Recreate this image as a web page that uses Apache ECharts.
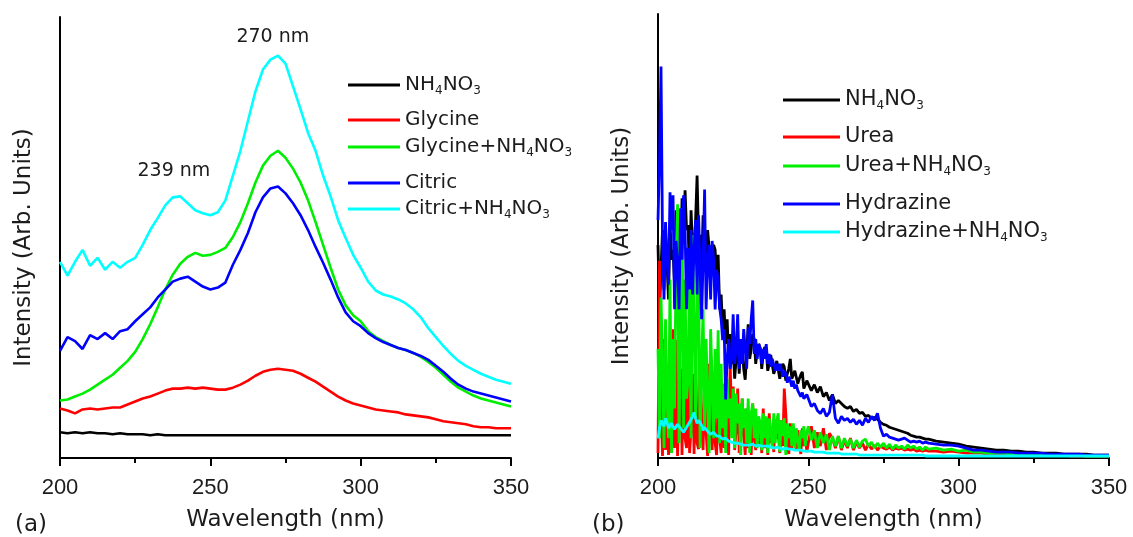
<!DOCTYPE html>
<html><head><meta charset="utf-8">
<script src="https://cdn.jsdelivr.net/npm/echarts@6/dist/echarts.min.js"></script>
<style>html,body{margin:0;padding:0;background:#fff}#c{width:1133px;height:537px}</style>
</head><body><div id="c"></div>
<script>
// ---------- Panel (a) data ----------
const leftWavelength = [200,202.5,205,207.5,210,212.5,215,217.5,220,222.5,225,227.5,230,232.5,235,237.5,240,242.5,245,247.5,250,252.5,255,257.5,260,262.5,265,267.5,270,272.5,275,277.5,280,282.5,285,287.5,290,292.5,295,297.5,300,302.5,305,307.5,310,312.5,315,317.5,320,322.5,325,327.5,330,332.5,335,337.5,340,342.5,345,347.5,350];
const nh4no3A = [26,25,26,25,26,25,25,24,25,24,24,24,23,24,23,23,23,23,23,23,23,23,23,23,23,23,23,23,23,23,23,23,23,23,23,23,23,23,23,23,23,23,23,23,23,23,23,23,23,23,23,23,23,23,23,23,23,23,23,23,23];
const glycine = [50,48,45,49,50,49,50,51,51,54,57,60,62,65,68,70,70,71,70,71,70,69,69,71,74,78,83,87,89,90,89,88,85,81,77,72,67,62,58,55,53,51,49,48,47,46,44,43,42,41,39,37,36,35,34,32,31,31,30,30,30];
const glycineNH4 = [58,59,62,65,69,74,79,84,91,98,107,120,135,152,170,185,196,203,207,204,205,208,212,223,238,257,278,295,305,310,303,292,278,260,238,215,192,170,154,144,138,128,122,118,114,111,109,106,102,97,91,84,77,71,67,63,60,58,56,54,52];
const citric = [108,122,118,110,124,120,126,120,128,130,138,145,152,162,170,178,181,183,178,173,170,172,177,195,210,227,248,263,272,274,267,257,245,230,213,197,180,162,147,138,133,126,121,117,114,111,109,106,103,99,93,87,80,74,70,67,65,63,61,59,57];
const citricNH4 = [198,184,198,210,194,202,190,198,192,198,202,215,230,242,255,263,264,257,250,247,245,248,260,285,310,340,370,392,402,406,398,375,352,328,310,285,264,240,222,205,192,178,169,165,163,160,156,150,142,131,122,113,105,98,93,89,85,82,79,77,75];

// ---------- Panel (b) data ----------
const rightWavelength = [
  200,200.5,201,201.5,202,202.5,203,203.5,204,204.5,
  205,205.5,206,206.5,207,207.5,208,208.5,209,209.5,
  210,210.5,211,211.5,212,212.5,213,213.5,214,214.5,
  215,215.5,216,216.5,217,217.5,218,218.5,219,219.5,
  220,220.5,221,221.5,222,222.5,223,223.5,224,224.5,
  225,225.5,226,226.5,227,227.5,228,228.5,229,229.5,
  230,230.5,231,231.5,232,232.5,233,233.5,234,234.5,
  235,235.5,236,236.5,237,237.5,238,238.5,239,239.5,
  240,240.5,241,241.5,242,242.5,243,243.5,244,244.5,
  245,245.5,246,246.5,247,247.5,248,248.5,249,249.5,
  250,
  251,252,253,254,255,256,257,258,259,260,
  261,262,263,264,265,266,267,268,269,270,
  271,272,273,274,275,276,277,278,279,280,
  281,282,283,284,285,286,287,288,289,290,
  292.5,295,297.5,300,302.5,305,307.5,310,312.5,315,317.5,320,322.5,325,327.5,330,332.5,335,337.5,340,342.5,345,347.5,350];
const nh4no3B = [
  215,150,190,230,170,225,195,160,238,200,
  210,175,250,200,220,185,262,215,270,230,
  235,180,250,210,205,240,285,220,225,190,
  245,200,195,230,212,180,200,215,210,175,
  205,150,165,130,150,115,140,100,125,95,
  110,80,100,120,85,110,115,90,79,105,
  135,100,110,125,120,95,108,115,111,90,
  105,112,109,88,95,104,102,85,90,98,
  96,80,88,95,92,78,85,90,100,80,
  82,88,88,75,80,84,87,70,72,78,
  76,
  68,74,66,72,62,66,58,64,55,58,
  55,52,50,52,47,49,45,46,42,43,
  40,41,39,36,34,33,31,30,29,28,
  27,26,25,23,22,21,21,20,19,19,
  17,16,15,14,12,11,10,9,8,8,7,7,6,6,5,5,5,4,4,4,4,3,3,3];
const urea = [
  5,199,60,2,120,8,62,3,40,5,
  130,10,119,2,60,90,3,125,20,10,
  100,5,30,85,4,112,15,9,95,30,
  8,80,25,2,95,40,8,70,15,3,
  60,20,5,75,10,79,30,3,95,40,
  72,8,30,70,5,15,60,25,3,50,
  10,45,3,55,20,8,40,12,30,5,
  50,10,40,3,45,15,30,6,38,20,
  25,5,38,12,70,45,15,4,35,10,
  30,20,8,28,15,4,30,12,22,6,
  15,
  32,10,26,12,30,8,25,20,10,22,
  8,18,10,20,8,16,10,15,8,14,
  9,13,8,12,10,9,11,8,10,9,
  10,8,9,8,9,7,8,7,8,7,
  7,6,7,6,5,5,5,4,4,4,4,3,3,3,3,3,3,3,2,2,2,2,2,2];
const ureaNH4 = [
  110,20,162,95,10,140,60,20,180,5,
  120,50,190,256,15,140,252,30,180,60,
  79,190,20,225,139,40,170,193,10,90,
  150,30,120,60,5,130,79,20,110,40,
  129,15,95,30,75,5,80,40,60,20,
  70,10,65,35,55,3,60,30,50,15,
  60,5,45,55,20,50,10,42,35,8,
  45,20,42,5,40,28,10,45,15,38,
  45,6,38,22,40,3,35,20,32,12,
  35,10,30,18,8,28,20,32,12,26,
  32,
  18,28,10,26,15,24,8,22,12,22,
  10,20,12,19,10,18,11,17,19,12,
  16,10,15,11,15,10,14,9,13,10,
  12,9,13,10,12,9,11,8,11,9,
  10,8,9,7,8,6,6,5,5,5,4,4,4,4,3,3,3,3,3,3,2,2,2,2];
const hydrazine = [
  240,300,395,220,160,238,200,175,268,230,
  265,150,219,195,150,252,200,265,230,150,
  212,170,230,165,210,240,165,245,190,140,
  200,271,150,199,215,160,219,200,150,190,
  180,152,140,119,130,59,100,120,90,100,
  145,95,110,145,90,120,95,130,110,90,
  132,115,140,159,105,120,100,115,110,95,
  110,100,115,95,105,92,100,98,88,95,
  88,95,90,82,88,85,76,82,78,72,
  78,70,74,68,70,62,66,60,59,64,
  60,
  52,55,48,45,50,42,46,64,40,35,
  42,38,40,36,39,34,38,33,40,36,
  42,38,45,30,22,24,21,20,19,18,
  19,20,18,16,17,16,17,15,16,15,
  14,13,13,12,10,8,8,7,6,6,6,5,5,5,5,4,4,4,4,4,3,3,3,3];
const hydrazineNH4 = [
  20,30,38,35,32,40,36,30,30,35,
  33,29,28,34,34,30,30,26,27,31,
  32,36,38,42,46,40,35,38,40,33,
  28,31,32,27,25,24,22,26,26,22,
  20,22,22,19,18,20,20,17,15,16,
  17,15,13,15,15,14,12,13,14,13,
  14,13,15,14,13,12,14,13,12,12,
  13,12,11,12,12,11,11,10,11,11,
  10,10,10,9,9,10,10,9,9,9,
  9,8,8,8,8,8,8,7,7,7,
  7,
  7,6,6,6,6,5,5,5,5,5,
  4,4,4,4,4,4,3,3,3,3,
  3,3,3,3,3,3,3,3,3,3,
  3,3,3,3,3,3,3,3,2,2,
  2,2,2,2,2,2,2,2,2,2,2,2,2,2,2,2,2,2,2,2,2,2,2,2];

// tick labels / texts
const xTicks = [200, 250, 300, 350];
const peakLabels = ['239 nm', '270 nm'];
const peakWavelengths = [237.9, 270.8];
const peakHeights = [290, 425];

const FONT = 'DejaVu Sans';
const TICKFONT = 'Liberation Sans';
const TXT = '#1c1c1c';
const pairs = (xs, ys) => xs.map((x, i) => [x, ys[i]]);

const displayNames = {
  'NH4NO3 (a)': 'NH{s|4}NO{s|3}',
  'Glycine': 'Glycine',
  'Glycine+NH4NO3': 'Glycine+NH{s|4}NO{s|3}',
  'Citric': 'Citric',
  'Citric+NH4NO3': 'Citric+NH{s|4}NO{s|3}',
  'NH4NO3 (b)': 'NH{s|4}NO{s|3}',
  'Urea': 'Urea',
  'Urea+NH4NO3': 'Urea+NH{s|4}NO{s|3}',
  'Hydrazine': 'Hydrazine',
  'Hydrazine+NH4NO3': 'Hydrazine+NH{s|4}NO{s|3}'
};

function mkLegend(name, left, centerY, iconW, fs) {
  return {
    data: [name], left: left, top: centerY - 12, icon: 'rect',
    itemWidth: iconW, itemHeight: 3, selectedMode: false, padding: 0,
    formatter: n => displayNames[n],
    textStyle: {
      fontFamily: FONT, fontSize: fs, color: TXT, lineHeight: 24,
      rich: { s: { fontFamily: FONT, fontSize: 12, lineHeight: 2, verticalAlign: 'bottom', color: TXT } }
    }
  };
}

function mkX(gi) {
  return {
    type: 'value', gridIndex: gi, min: 200, max: 350, interval: 50,
    axisLine: { show: true, onZero: false, lineStyle: { color: '#000', width: 2 } },
    axisTick: { show: true, length: 8, lineStyle: { color: '#000', width: 2 } },
    minorTick: { show: true, splitNumber: 2, length: 5, lineStyle: { color: '#000', width: 2 } },
    splitLine: { show: false }, minorSplitLine: { show: false },
    axisLabel: { fontFamily: TICKFONT, fontSize: 22, color: TXT, margin: 19,
      formatter: v => (xTicks.indexOf(v) >= 0 ? String(v) : '') },
    name: 'Wavelength (nm)', nameLocation: 'middle', nameGap: 51,
    nameTextStyle: { fontFamily: FONT, fontSize: 23, color: TXT }
  };
}
function mkY(gi, max) {
  return {
    type: 'value', gridIndex: gi, min: 0, max: max,
    axisLine: { show: true, lineStyle: { color: '#000', width: 2 } },
    axisTick: { show: false }, axisLabel: { show: false }, splitLine: { show: false },
    name: 'Intensity (Arb. Units)', nameLocation: 'middle', nameGap: 24, nameRotate: 90,
    nameTextStyle: { fontFamily: FONT, fontSize: 23, color: TXT, padding: [0, 20, 0, 0] }
  };
}
function mkLine(name, gi, xs, ys, color, width, extra) {
  return Object.assign({
    type: 'line', name: name, xAxisIndex: gi, yAxisIndex: gi,
    data: pairs(xs, ys), showSymbol: false, symbol: 'none',
    lineStyle: { color: color, width: width }, itemStyle: { color: color },
    animation: false, silent: true
  }, extra || {});
}

const chart = echarts.init(document.getElementById('c'));
chart.setOption({
  backgroundColor: '#fff',
  animation: false,
  title: [
    { text: '(a)', left: 10, top: 509, textStyle: { fontFamily: FONT, fontSize: 23, fontWeight: 'normal', color: TXT } },
    { text: '(b)', left: 587, top: 509, textStyle: { fontFamily: FONT, fontSize: 23, fontWeight: 'normal', color: TXT } }
  ],
  grid: [
    { left: 60, top: 17, width: 451, height: 445 },
    { left: 658, top: 14, width: 451, height: 448 }
  ],
  xAxis: [mkX(0), mkX(1)],
  yAxis: [mkY(0, 445), mkY(1, 448)],
  legend: [
    mkLegend('NH4NO3 (a)', 348, 85, 52, 20),
    mkLegend('Glycine', 348, 120, 52, 20),
    mkLegend('Glycine+NH4NO3', 348, 147, 52, 20),
    mkLegend('Citric', 348, 183, 52, 20),
    mkLegend('Citric+NH4NO3', 348, 209, 52, 20),
    mkLegend('NH4NO3 (b)', 783, 100, 57, 21),
    mkLegend('Urea', 783, 137, 57, 21),
    mkLegend('Urea+NH4NO3', 783, 166, 57, 21),
    mkLegend('Hydrazine', 783, 204, 57, 21),
    mkLegend('Hydrazine+NH4NO3', 783, 232, 57, 21)
  ],
  series: [
    mkLine('NH4NO3 (a)', 0, leftWavelength, nh4no3A, '#000000', 2.6),
    mkLine('Glycine', 0, leftWavelength, glycine, '#ff0000', 2.6),
    mkLine('Glycine+NH4NO3', 0, leftWavelength, glycineNH4, '#00ee00', 2.6),
    mkLine('Citric', 0, leftWavelength, citric, '#0000ff', 2.6),
    mkLine('Citric+NH4NO3', 0, leftWavelength, citricNH4, '#00ffff', 2.6, {
      markPoint: {
        symbol: 'circle', symbolSize: 0, silent: true,
        label: { show: true, position: 'inside', formatter: '{b}', fontFamily: FONT, fontSize: 19, color: TXT },
        data: peakLabels.map((t, i) => ({ name: t, coord: [peakWavelengths[i], peakHeights[i]] }))
      }
    }),
    mkLine('NH4NO3 (b)', 1, rightWavelength, nh4no3B, '#000000', 2.8),
    mkLine('Urea', 1, rightWavelength, urea, '#ff0000', 2.8),
    mkLine('Urea+NH4NO3', 1, rightWavelength, ureaNH4, '#00ee00', 2.8),
    mkLine('Hydrazine', 1, rightWavelength, hydrazine, '#0000ff', 2.8),
    mkLine('Hydrazine+NH4NO3', 1, rightWavelength, hydrazineNH4, '#00ffff', 2.8)
  ]
});
</script></body></html>
